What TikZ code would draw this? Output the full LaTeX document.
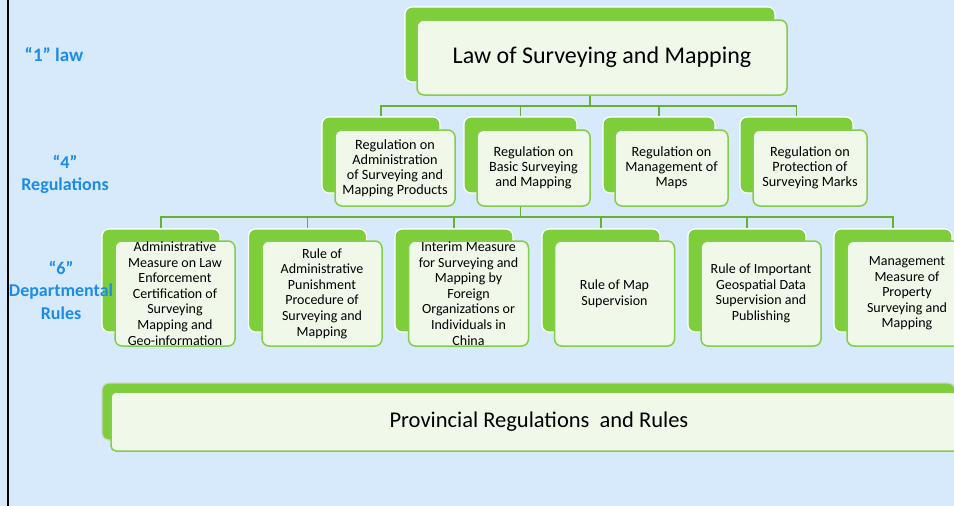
\documentclass[tikz,border=0pt]{standalone}
\usepackage{fontspec}
\setmainfont{Carlito}
\definecolor{bgblue}{RGB}{214,234,251}
\definecolor{leafgreen}{RGB}{126,206,60}
\definecolor{edgegreen}{RGB}{130,206,74}
\definecolor{linegreen}{RGB}{104,176,52}
\definecolor{paper}{RGB}{240,248,234}
\definecolor{tagblue}{RGB}{28,140,232}
\tikzset{
	backtab/.style={rounded corners=7pt,fill=leafgreen,draw=white,line width=1.2pt,inner sep=0pt},
	card/.style={rounded corners=7pt,fill=paper,draw=edgegreen,line width=1.5pt,align=center,inner sep=0pt,font=\fontsize{14}{15.6}\selectfont},
	link/.style={draw=linegreen,line width=1.6pt},
	tag/.style={text=tagblue,font=\bfseries\fontsize{18}{22.5}\selectfont,align=center}
}
\begin{document}
\begin{tikzpicture}[x=1pt,y=-1pt]
	\useasboundingbox (0,0) rectangle (954,506);
	\clip (0,0) rectangle (954,506);
	\fill[bgblue] (0,0) rectangle (954,506);
	\draw[line width=2pt] (8,0) -- (8,506);
	\node[backtab,minimum width=370pt,minimum height=75pt] (lawb) at (590,44.5) {};
	\node[card,minimum width=370pt,minimum height=75pt,font=\fontsize{24}{28}\selectfont] (law) at (602,57.5) {Law of Surveying and Mapping};
	\node[backtab,minimum width=118pt,minimum height=76pt] (r1b) at (381,155) {};
	\node[card,minimum width=120pt,minimum height=76pt,font=\fontsize{14.2}{15}\selectfont] (r1) at (395,168) {Regulation on\\Administration\\of Surveying and\\Mapping Products};
	\node[backtab,minimum width=113pt,minimum height=76pt] (r2b) at (520.5,155) {};
	\node[card,minimum width=113pt,minimum height=76pt,font=\fontsize{14.2}{15}\selectfont] (r2) at (533.5,168) {Regulation on\\Basic Surveying\\and Mapping};
	\node[backtab,minimum width=112pt,minimum height=76pt] (r3b) at (659,155) {};
	\node[card,minimum width=113pt,minimum height=76pt,font=\fontsize{14.2}{15}\selectfont] (r3) at (671.5,168) {Regulation on\\Management of\\Maps};
	\node[backtab,minimum width=113pt,minimum height=76pt] (r4b) at (796.5,155) {};
	\node[card,minimum width=114pt,minimum height=76pt,font=\fontsize{14.2}{15}\selectfont] (r4) at (810,168) {Regulation on\\Protection of\\Surveying Marks};
	\node[backtab,minimum width=118pt,minimum height=103pt] (d1b) at (161,280.5) {};
	\node[card,minimum width=120pt,minimum height=105pt] (d1) at (175,293.5) {Administrative\\Measure on Law\\Enforcement\\Certification of\\Surveying\\Mapping and\\Geo-information};
	\node[backtab,minimum width=118pt,minimum height=103pt] (d2b) at (307.5,280.5) {};
	\node[card,minimum width=120pt,minimum height=105pt] (d2) at (322,293.5) {Rule of\\Administrative\\Punishment\\Procedure of\\Surveying and\\Mapping};
	\node[backtab,minimum width=118pt,minimum height=103pt] (d3b) at (454,280.5) {};
	\node[card,minimum width=120pt,minimum height=105pt] (d3) at (468.5,293.5) {Interim Measure\\for Surveying and\\Mapping by\\Foreign\\Organizations or\\Individuals in\\China};
	\node[backtab,minimum width=118pt,minimum height=103pt] (d4b) at (601,280.5) {};
	\node[card,minimum width=120pt,minimum height=105pt] (d4) at (614.5,293.5) {Rule of Map\\Supervision};
	\node[backtab,minimum width=118pt,minimum height=103pt] (d5b) at (747,280.5) {};
	\node[card,minimum width=120pt,minimum height=105pt] (d5) at (761,293.5) {Rule of Important\\Geospatial Data\\Supervision and\\Publishing};
	\node[backtab,minimum width=118pt,minimum height=103pt] (d6b) at (893,280.5) {};
	\node[card,minimum width=120pt,minimum height=105pt] (d6) at (907,293.5) {Management\\Measure of\\Property\\Surveying and\\Mapping};
	\node[backtab,draw=gray!35,minimum width=853pt,minimum height=57pt] (provb) at (528.5,411.5) {};
	\node[card,rounded corners=5pt,minimum width=856pt,minimum height=59pt,font=\fontsize{22.5}{26}\selectfont] (prov) at (539,421.5) {Provincial Regulations~ and Rules};
	\coordinate (bus1) at (0,106);
	\coordinate (bus2) at (0,217);
	\foreach \b in {r1b,r2b,r3b,r4b}
		\draw[link] (lawb |- law.south) -- (lawb |- bus1) -| (\b.north);
	\foreach \b in {d1b,d2b,d3b,d4b,d5b,d6b}
		\draw[link] (r2b |- r2.south) -- (r2b |- bus2) -| (\b.north);
	\node[tag,font=\bfseries\fontsize{19}{22.5}\selectfont] (one) at (54,55) {“1” law};
	\node[tag] (four) at (65,174.5) {“4”\\Regulations};
	\node[tag] (six) at (61,290) {“6”\\Departmental\\Rules};
\end{tikzpicture}
\end{document}
